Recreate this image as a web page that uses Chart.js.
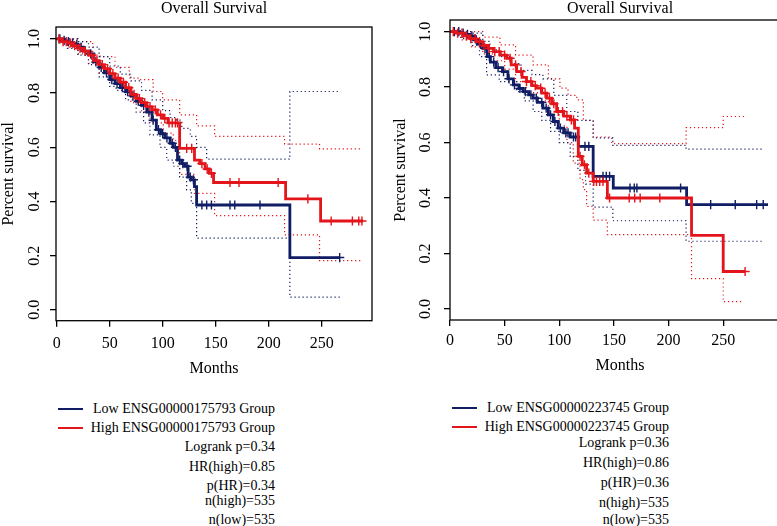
<!DOCTYPE html>
<html><head><meta charset="utf-8">
<script src="https://cdn.jsdelivr.net/npm/chart.js@4.4.1/dist/chart.umd.min.js"></script>
<style>
html,body{margin:0;padding:0;background:#fff;width:777px;height:526px;overflow:hidden;position:relative;}
canvas{position:absolute;top:0;}
.t{position:absolute;font-family:"Liberation Serif","Times New Roman",serif;font-size:14px;line-height:16px;color:#000;white-space:nowrap;text-align:right;}
.sw{position:absolute;height:2px;}
</style></head><body>
<canvas id="c1" width="390" height="380" style="left:0px"></canvas>
<canvas id="c2" width="410" height="380" style="left:390px"></canvas>
<div id="leg"></div>
<script>
// ---------- shared labels ----------
const chartTitle = 'Overall Survival';
const xTitle = 'Months';
const yTitle = 'Percent survival';
const xTicks = [0, 50, 100, 150, 200, 250];
const xTickLabels = ['0', '50', '100', '150', '200', '250'];
const yTicks = [0, 0.2, 0.4, 0.6, 0.8, 1.0];
const yTickLabels = ['0.0', '0.2', '0.4', '0.6', '0.8', '1.0'];

// ---------- left panel (ENSG00000175793) ----------
const leftLowTime = [0, 4, 8, 12, 16, 20, 25, 30, 35, 40, 45, 50, 55, 60, 65, 70, 75, 80, 85, 90, 94, 98, 102, 107, 110, 114, 118, 121, 124, 127, 130, 132, 220, 267];
const leftLowSurv = [1.0, 0.995, 0.99, 0.985, 0.98, 0.97, 0.955, 0.945, 0.915, 0.895, 0.875, 0.85, 0.835, 0.82, 0.805, 0.79, 0.77, 0.755, 0.73, 0.70, 0.665, 0.65, 0.635, 0.615, 0.60, 0.553, 0.54, 0.53, 0.49, 0.48, 0.455, 0.387, 0.193, 0.193];
const leftLowCensor = [3, 7, 11, 15, 19, 23, 27, 32, 37, 42, 47, 52, 57, 62, 67, 72, 77, 82, 87, 91, 96, 100, 104, 109, 112, 116, 119, 123, 126, 129, 137, 141.5, 146, 163.5, 168, 191.8, 267];
const leftHighTime = [0, 5, 10, 15, 20, 25, 30, 35, 40, 45, 50, 55, 60, 65, 70, 75, 80, 85, 90, 95, 100, 105, 116, 130, 135, 140, 144, 148, 216, 249, 289];
const leftHighSurv = [1.0, 0.99, 0.985, 0.975, 0.965, 0.955, 0.94, 0.92, 0.905, 0.89, 0.872, 0.855, 0.84, 0.82, 0.795, 0.78, 0.765, 0.75, 0.738, 0.72, 0.707, 0.69, 0.596, 0.553, 0.54, 0.52, 0.504, 0.47, 0.41, 0.328, 0.328];
const leftHighCensor = [2, 6, 9, 13, 17, 22, 27, 33, 38, 43, 48, 53, 58, 63, 68, 73, 78, 83, 88, 93, 98, 102, 106, 109, 112, 114, 122.6, 127.4, 137, 142, 146, 163.5, 172, 209, 237, 259, 279, 285, 288];
const leftLowUpperTime = [0, 10, 20, 30, 40, 50, 60, 70, 80, 90, 100, 107, 113, 118, 126, 132, 141.5, 220, 267];
const leftLowUpperSurv = [1.0, 1.0, 0.99, 0.97, 0.935, 0.9, 0.87, 0.845, 0.81, 0.775, 0.735, 0.71, 0.70, 0.67, 0.64, 0.60, 0.556, 0.806, 0.806];
const leftLowLowerTime = [0, 10, 20, 30, 40, 50, 56, 65, 75, 82, 88, 97.5, 103.8, 110, 116, 122.6, 127, 132, 220, 267];
const leftLowLowerSurv = [1.0, 0.965, 0.94, 0.905, 0.86, 0.825, 0.81, 0.775, 0.73, 0.69, 0.646, 0.60, 0.553, 0.53, 0.49, 0.443, 0.393, 0.265, 0.047, 0.047];
const leftHighUpperTime = [0, 10, 20, 34, 41, 55, 68.5, 79, 91, 100, 116, 132, 149, 215, 248, 288];
const leftHighUpperSurv = [1.0, 1.0, 0.99, 0.94, 0.935, 0.895, 0.855, 0.85, 0.806, 0.775, 0.72, 0.679, 0.64, 0.612, 0.594, 0.594];
const leftHighLowerTime = [0, 10, 20, 30, 40, 50, 60, 70, 80, 88, 100.6, 110, 116, 130, 149, 215, 248, 288];
const leftHighLowerSurv = [1.0, 0.97, 0.945, 0.91, 0.875, 0.845, 0.81, 0.765, 0.73, 0.69, 0.652, 0.625, 0.5, 0.43, 0.348, 0.277, 0.182, 0.182];
const leftGroups = ['Low ENSG00000175793 Group', 'High ENSG00000175793 Group'];
const leftStats = ['Logrank p=0.34', 'HR(high)=0.85', 'p(HR)=0.34', 'n(high)=535', 'n(low)=535'];

// ---------- right panel (ENSG00000223745) ----------
const rightLowTime = [0, 9, 14, 18, 22, 26, 30, 34, 37, 42, 48, 53, 58, 63, 67, 72, 76, 80, 85, 90, 94.5, 99, 104, 110, 117.4, 131, 149.4, 216.5, 291];
const rightLowSurv = [1.0, 0.995, 0.99, 0.985, 0.97, 0.955, 0.94, 0.91, 0.89, 0.87, 0.856, 0.83, 0.808, 0.795, 0.784, 0.772, 0.76, 0.745, 0.724, 0.70, 0.676, 0.652, 0.635, 0.62, 0.586, 0.478, 0.436, 0.376, 0.376];
const rightLowCensor = [4, 8, 12, 16, 20, 24, 28, 32, 36, 40, 44, 49, 54, 59, 64, 69, 74, 79, 84, 88, 92, 96, 101, 106, 108, 113, 115, 123.5, 127, 140, 143, 146, 164.7, 168.6, 171, 211, 238.5, 261, 280.6, 286.6];
const rightHighTime = [0, 6, 12, 18, 24, 30, 35, 40, 46, 52, 56, 61, 66, 70, 75, 79, 84, 88.5, 93, 97.6, 104, 110, 114, 117.4, 121, 125, 131, 144, 221, 250, 270];
const rightHighSurv = [1.0, 0.995, 0.985, 0.975, 0.964, 0.95, 0.94, 0.928, 0.915, 0.904, 0.88, 0.856, 0.835, 0.82, 0.805, 0.796, 0.778, 0.76, 0.74, 0.712, 0.695, 0.682, 0.652, 0.55, 0.52, 0.49, 0.46, 0.40, 0.265, 0.135, 0.135];
const rightHighCensor = [3, 7, 11, 15, 19, 23, 27, 31, 36, 41, 45, 50, 55, 60, 65, 70, 74, 78, 83, 87, 91, 95, 99, 103, 107, 111, 113, 119, 123, 127, 131.5, 134, 137, 140, 146, 164, 169, 174, 192, 270];
const rightLowUpperTime = [0, 10, 20, 30, 36.6, 45, 55, 65, 75, 85, 95, 106.8, 117, 131, 149, 216, 286];
const rightLowUpperSurv = [1.0, 1.0, 0.995, 0.965, 0.934, 0.91, 0.885, 0.86, 0.845, 0.83, 0.77, 0.712, 0.68, 0.617, 0.59, 0.576, 0.576];
const rightLowLowerTime = [0, 10, 20, 27, 33.5, 45, 61, 68, 76, 84, 92, 100, 110, 117, 124, 131, 149, 216, 286];
const rightLowLowerSurv = [1.0, 0.975, 0.95, 0.91, 0.844, 0.82, 0.784, 0.75, 0.712, 0.68, 0.64, 0.60, 0.55, 0.50, 0.45, 0.367, 0.318, 0.244, 0.244];
const rightHighUpperTime = [0, 10, 20, 30, 45.7, 60, 76, 90, 100.6, 108, 116, 122, 131, 148, 216, 250, 270];
const rightHighUpperSurv = [1.0, 1.0, 1.0, 0.98, 0.952, 0.915, 0.88, 0.83, 0.796, 0.77, 0.754, 0.68, 0.62, 0.596, 0.654, 0.694, 0.694];
const rightHighLowerTime = [0, 10, 20, 30, 40, 50, 60, 70, 80, 90, 100, 107, 112.8, 119, 122, 125, 131, 144, 221, 250, 267];
const rightHighLowerSurv = [1.0, 0.97, 0.945, 0.92, 0.895, 0.865, 0.82, 0.78, 0.75, 0.71, 0.66, 0.6, 0.526, 0.466, 0.43, 0.37, 0.32, 0.268, 0.109, 0.026, 0.026];
const rightGroups = ['Low ENSG00000223745 Group', 'High ENSG00000223745 Group'];
const rightStats = ['Logrank p=0.36', 'HR(high)=0.86', 'p(HR)=0.36', 'n(high)=535', 'n(low)=535'];

// ---------- styling ----------
const NAVY = '#101c63';
const RED = '#e3141a';
const FONT = '"Liberation Serif", "Times New Roman", serif';

function steps(T, S) { return T.map((t, i) => ({x: t, y: S[i]})); }
// censor marks sit on the curve: height = survival of the step in force at that time
function censorPts(times, T, S) {
  return times.map(t => {
    let v = S[0];
    for (let i = 0; i < T.length; i++) { if (T[i] <= t) v = S[i]; }
    return {x: t, y: v};
  });
}

const boxPlugin = {
  id: 'box',
  afterDatasetsDraw(chart) {
    const a = chart.chartArea, ctx = chart.ctx;
    ctx.save();
    ctx.strokeStyle = '#000';
    ctx.lineWidth = 1.3;
    ctx.strokeRect(a.left, a.top, a.right - a.left, a.bottom - a.top);
    ctx.restore();
  }
};

function makePanel(id, p, g) {
  const main = (T, S, c, ord) => ({data: steps(T, S), stepped: true, borderColor: c, borderWidth: 2.8, pointRadius: 0, fill: false, order: ord});
  const ci = (T, S, c) => ({data: steps(T, S), stepped: true, borderColor: c, borderWidth: 1.2, borderDash: [1.2, 2.8], pointRadius: 0, fill: false, order: 5});
  const cens = (pts, c, ord) => ({data: pts, showLine: false, pointStyle: 'cross', pointRadius: 4.6, borderColor: c, borderWidth: 1.4, pointBorderColor: c, order: ord});
  const tickFont = {family: FONT, size: 16, lineHeight: 1};
  new Chart(document.getElementById(id), {
    type: 'line',
    data: {datasets: [
      ci(p.lowUpT, p.lowUpS, NAVY), ci(p.lowLoT, p.lowLoS, NAVY),
      ci(p.highUpT, p.highUpS, RED), ci(p.highLoT, p.highLoS, RED),
      main(p.lowT, p.lowS, NAVY, 3), cens(censorPts(p.lowC, p.lowT, p.lowS), NAVY, 3),
      main(p.highT, p.highS, RED, 1), cens(censorPts(p.highC, p.highT, p.highS), RED, 1)
    ]},
    options: {
      responsive: false, animation: false, devicePixelRatio: 1, events: [],
      layout: {padding: {left: 0, right: g.padRight, top: 0, bottom: 0}},
      plugins: {legend: {display: false}, tooltip: {enabled: false}, title: {display: false}},
      scales: {
        x: {
          type: 'linear', position: 'bottom', min: g.xMin, max: g.xMax,
          afterBuildTicks: s => { s.ticks = xTicks.map(v => ({value: v})); },
          afterFit: s => { s.height = g.xH; },
          ticks: {autoSkip: false, minRotation: 0, maxRotation: 0, padding: g.xPad, color: '#000', font: tickFont,
                  callback: (v, i) => xTickLabels[i]},
          grid: {display: true, drawOnChartArea: false, drawTicks: true, tickLength: 6, color: '#000', lineWidth: 1.3},
          border: {display: false},
          title: {display: true, text: xTitle, color: '#000', font: {family: FONT, size: 16, lineHeight: 1}, padding: {top: 0, bottom: g.xTitlePad}}
        },
        xt: {
          type: 'linear', position: 'top', min: g.xMin, max: g.xMax,
          afterFit: s => { s.height = g.topH; },
          ticks: {display: false}, grid: {display: false}, border: {display: false},
          title: {display: true, text: chartTitle, color: '#000', font: {family: FONT, size: 16, lineHeight: 1}, padding: {top: g.topPad, bottom: 0}}
        },
        y: {
          type: 'linear', position: 'left', min: -0.04, max: g.yMax,
          afterBuildTicks: s => { s.ticks = yTicks.map(v => ({value: v})); },
          afterFit: s => { s.width = g.yW; },
          ticks: {minRotation: 90, maxRotation: 90, crossAlign: 'center', padding: g.yPad, color: '#000', font: tickFont,
                  callback: (v, i) => yTickLabels[i]},
          grid: {display: true, drawOnChartArea: false, drawTicks: true, tickLength: 6, color: '#000', lineWidth: 1.3},
          border: {display: false},
          title: {display: true, text: yTitle, color: '#000', font: {family: FONT, size: 16, lineHeight: 1}, padding: {top: g.yTitlePad, bottom: 0}}
        }
      }
    },
    plugins: [boxPlugin]
  });
}

makePanel('c1', {
  lowT: leftLowTime, lowS: leftLowSurv, lowC: leftLowCensor,
  highT: leftHighTime, highS: leftHighSurv, highC: leftHighCensor,
  lowUpT: leftLowUpperTime, lowUpS: leftLowUpperSurv, lowLoT: leftLowLowerTime, lowLoS: leftLowLowerSurv,
  highUpT: leftHighUpperTime, highUpS: leftHighUpperSurv, highLoT: leftHighLowerTime, highLoS: leftHighLowerSurv
}, {padRight: 18, xMin: -0.66, xMax: 297.5, yMax: 1.044, xH: 59.3, topH: 27, yW: 56,
    xPad: 8.8, yPad: 5, xTitlePad: 3, topPad: 1, yTitlePad: 1});

makePanel('c2', {
  lowT: rightLowTime, lowS: rightLowSurv, lowC: rightLowCensor,
  highT: rightHighTime, highS: rightHighSurv, highC: rightHighCensor,
  lowUpT: rightLowUpperTime, lowUpS: rightLowUpperSurv, lowLoT: rightLowLowerTime, lowLoS: rightLowLowerSurv,
  highUpT: rightHighUpperTime, highUpS: rightHighUpperSurv, highLoT: rightHighLowerTime, highLoS: rightHighLowerSurv
}, {padRight: 10, xMin: 0, xMax: 311.1, yMax: 1.042, xH: 60, topH: 20, yW: 60,
    xPad: 6.3, yPad: 8, xTitlePad: 6, topPad: 0.3, yTitlePad: 3});

// ---------- legends / statistics (HTML text) ----------
function legend(groups, stats, rows, textRight, swLeft) {
  const leg = document.getElementById('leg');
  const lines = groups.concat(stats);
  lines.forEach((txt, i) => {
    const d = document.createElement('div');
    d.className = 't';
    d.style.left = '0px';
    d.style.width = textRight + 'px';
    d.style.top = Math.round(rows[i] - 8) + 'px';
    d.textContent = txt;
    leg.appendChild(d);
  });
  [NAVY, RED].forEach((c, i) => {
    const s = document.createElement('div');
    s.className = 'sw';
    s.style.left = swLeft + 'px';
    s.style.width = '25px';
    s.style.top = Math.round(rows[i] - 1) + 'px';
    s.style.background = c;
    leg.appendChild(s);
  });
}
legend(leftGroups, leftStats, [409.3, 427.7, 446.7, 466.7, 486, 500.7, 520], 275, 58);
legend(rightGroups, rightStats, [408.3, 426.7, 443.3, 463.3, 483.3, 502.7, 520], 669, 452);
</script>
</body></html>
